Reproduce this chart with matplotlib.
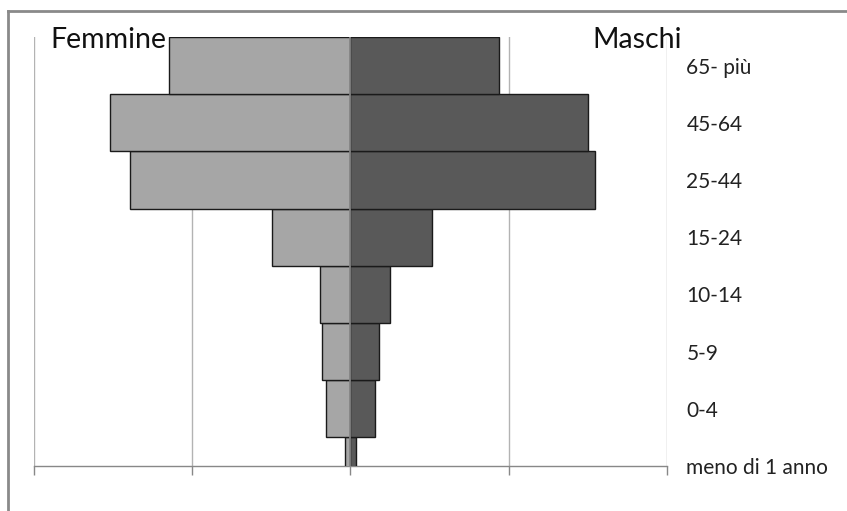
import matplotlib
matplotlib.use("Agg")
import matplotlib.pyplot as plt
from matplotlib.lines import Line2D

plt.rcParams['font.family'] = ['Lato', 'DejaVu Sans']

# Age groups from bottom to top
categories = ["meno di 1 anno", "0-4", "5-9", "10-14", "15-24", "25-44", "45-64", "65- più"]
femmine = [0.32, 1.54, 1.81, 1.90, 4.93, 13.90, 15.18, 11.47]
maschi = [0.34, 1.56, 1.83, 2.53, 5.18, 15.44, 15.00, 9.37]

W, H = 847, 511
fig = plt.figure(figsize=(W / 100, H / 100), dpi=100)
fig.patch.set_facecolor('white')

ax_left, ax_right_px = 33.5, 667.0
ax_top, ax_bot = 37.0, 466.0
ax = fig.add_axes([ax_left / W, (H - ax_bot) / H, (ax_right_px - ax_left) / W, (ax_bot - ax_top) / H])

ypos = list(range(len(categories)))
ax.barh(ypos, [-v for v in femmine], height=1.0, color='#a6a6a6', edgecolor='#1a1a1a', linewidth=1.0, zorder=3)
ax.barh(ypos, maschi, height=1.0, color='#595959', edgecolor='#1a1a1a', linewidth=1.0, zorder=3)
ax.axvline(0, color='#8c8c8c', linewidth=1.2, zorder=4)

ax.set_xlim(-20, 20)
ax.set_ylim(0, 7.5)
ax.set_xticks([-20, -10, 0, 10, 20])
ax.set_xticklabels([])
ax.tick_params(axis='x', direction='out', length=6.5, width=1, color='#888888')
ax.grid(axis='x', color='#b3b3b3', linewidth=1.0, zorder=0)

ax.yaxis.tick_right()
ax.set_yticks(ypos)
ax.set_yticklabels(categories, fontsize=15)
ax.tick_params(axis='y', length=0, pad=14)
for lab in ax.get_yticklabels():
    lab.set_color('#222222')

for s in ['top', 'left', 'right']:
    ax.spines[s].set_visible(False)
ax.spines['bottom'].set_color('#888888')
ax.spines['bottom'].set_linewidth(1.0)

fig.text(50 / W, 1 - 48 / H, "Femmine", fontsize=20.5, color='#111111', ha='left', va='baseline')
fig.text(592 / W, 1 - 48 / H, "Maschi", fontsize=20.5, color='#111111', ha='left', va='baseline')

# outer frame (top and left edges visible)
fig.add_artist(Line2D([8 / W, 1.0], [1 - 11 / H, 1 - 11 / H], transform=fig.transFigure, color='#8a8a8a', linewidth=2))
fig.add_artist(Line2D([8 / W, 8 / W], [0, 1 - 11 / H], transform=fig.transFigure, color='#8a8a8a', linewidth=2))

fig.savefig("out.png", dpi=100)
